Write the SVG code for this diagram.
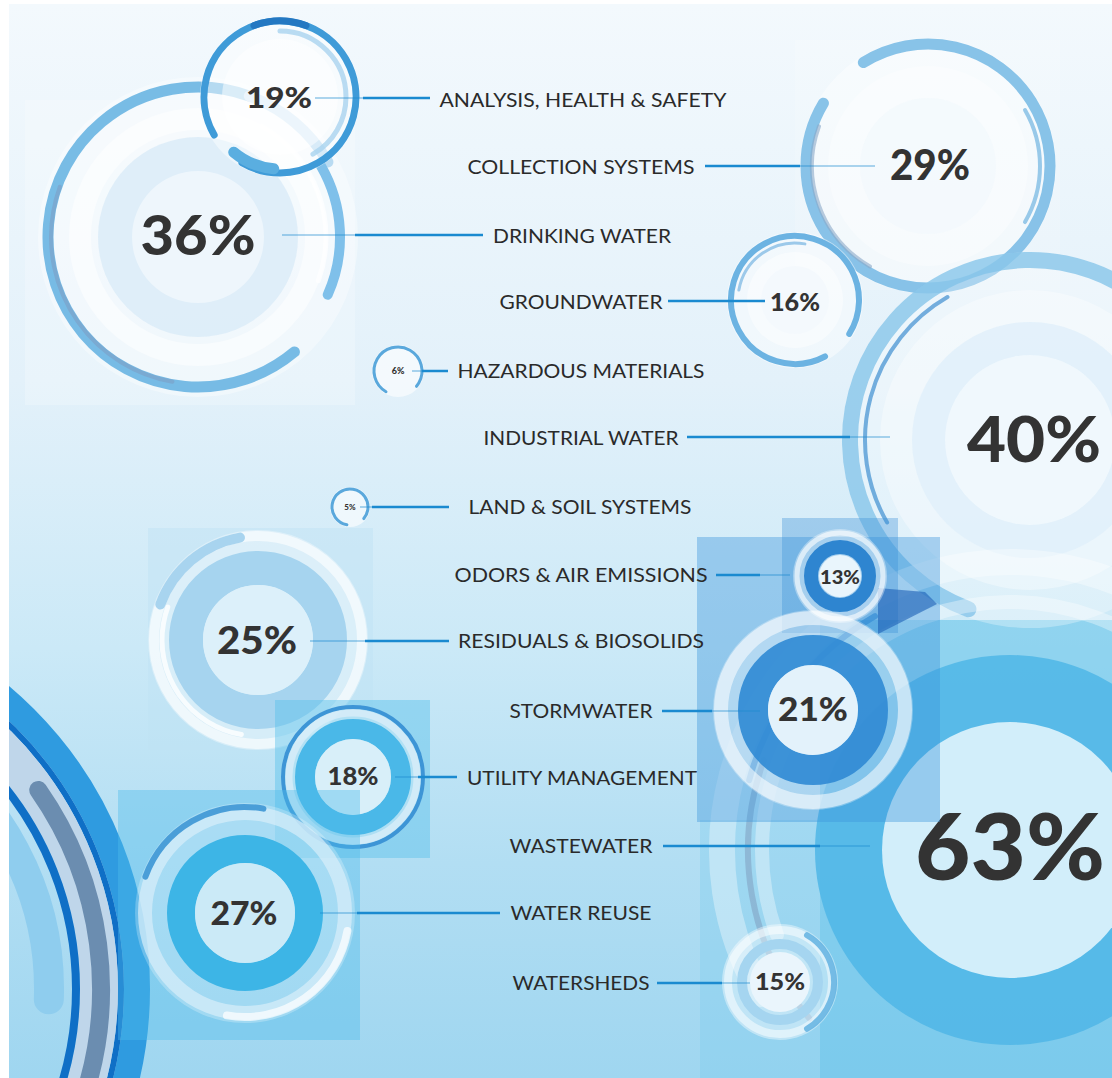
<svg xmlns="http://www.w3.org/2000/svg" width="1112" height="1078" viewBox="0 0 1112 1078">
<style>
.lbl{font-family:Lato,"Liberation Sans",sans-serif;font-size:19px;fill:#2a2a2a;text-anchor:middle}
.pct{font-family:Lato,"Liberation Sans",sans-serif;font-weight:900;fill:#333;text-anchor:middle}
.arc{fill:none;stroke-linecap:round}
.ring{fill:none}
.con{stroke:#1a8ad0;stroke-width:2.5}
.fnt{stroke:#1a8ad0;stroke-width:2;opacity:.35}
</style>
<defs>
<linearGradient id="bg" x1="0" y1="0" x2="0" y2="1">
<stop offset="0" stop-color="#f3f9fd"/>
<stop offset=".35" stop-color="#e3f1fa"/>
<stop offset=".6" stop-color="#cbe9f7"/>
<stop offset=".8" stop-color="#b2def3"/>
<stop offset="1" stop-color="#9fd6f0"/>
</linearGradient>
<clipPath id="frame"><rect x="9" y="4" width="1103" height="1074"/></clipPath>
</defs>
<rect width="1112" height="1078" fill="#fff"/>
<rect x="9" y="4" width="1103" height="1074" fill="url(#bg)"/>
<g clip-path="url(#frame)">
<g id="backdrop">
<rect x="25" y="100" width="330" height="305" fill="#fff" opacity=".22"/>
<rect x="795" y="40" width="265" height="250" fill="#fff" opacity=".15"/>
<rect x="148" y="528" width="225" height="222" fill="#bfe2f5" opacity=".45"/>
<rect x="820" y="620" width="292" height="458" fill="#5fc1ea" opacity=".55"/>
<rect x="700" y="820" width="120" height="258" fill="#7ccbee" opacity=".35"/>
</g>
<g id="bigarc">
<circle cx="-246" cy="989" r="295" class="arc" stroke="#8fcdee" stroke-width="30" pathLength="360" stroke-dasharray="60 999" transform="rotate(302 -246 989)"/>
<circle cx="-246" cy="989" r="383" class="ring" stroke="#2f9be0" stroke-width="26"/>
<circle cx="-246" cy="989" r="367" class="ring" stroke="#0f6fc6" stroke-width="6"/>
<circle cx="-246" cy="989" r="345" class="ring" stroke="#bfd6ea" stroke-width="38"/>
<circle cx="-246" cy="989" r="347" class="arc" stroke="#6b8db0" stroke-width="18" pathLength="360" stroke-dasharray="55 999" transform="rotate(325 -246 989)"/>
<circle cx="-246" cy="989" r="322" class="ring" stroke="#0f6fc6" stroke-width="8"/>
</g>
<g id="n36">
<circle cx="198" cy="237" r="160" fill="#fff" opacity=".35"/>
<circle cx="198" cy="237" r="118" class="ring" stroke="#fff" stroke-width="22" opacity=".5"/>
<circle cx="198" cy="237" r="100" fill="#d9ebf7" opacity=".8"/>
<circle cx="198" cy="237" r="66" fill="#eef6fc"/>
<circle cx="198" cy="237" r="150" class="arc" stroke="#62b0e0" stroke-width="11" opacity=".85" pathLength="360" stroke-dasharray="240 999" transform="rotate(50 198 237)"/>
<circle cx="198" cy="237" r="147" class="arc" stroke="#7d9fc4" stroke-width="4" opacity=".6" pathLength="360" stroke-dasharray="100 999" transform="rotate(100 198 237)"/>
<circle cx="198" cy="237" r="150" class="arc" stroke="#b9dbf2" stroke-width="11" pathLength="360" stroke-dasharray="40 999" transform="rotate(290 198 237)"/>
<circle cx="198" cy="237" r="142" class="arc" stroke="#7fc0ea" stroke-width="10" pathLength="360" stroke-dasharray="54 999" transform="rotate(330 198 237)"/>
<circle cx="198" cy="237" r="128" class="arc" stroke="#fff" stroke-width="5" opacity=".7" pathLength="360" stroke-dasharray="80 999" transform="rotate(300 198 237)"/>
<text class="pct" x="198" y="255" font-size="55" textLength="115" lengthAdjust="spacingAndGlyphs">36%</text>
</g>
<g id="n19">
<circle cx="280" cy="97" r="80" fill="#fff" opacity=".45"/>
<circle cx="280" cy="97" r="58" fill="#fff" opacity=".5"/>
<circle cx="280" cy="97" r="76" class="arc" stroke="#3f9bd8" stroke-width="7" pathLength="360" stroke-dasharray="330 999" transform="rotate(150 280 97)"/>
<circle cx="280" cy="97" r="76" class="arc" stroke="#2478c2" stroke-width="7" pathLength="360" stroke-dasharray="40 999" transform="rotate(250 280 97)"/>
<circle cx="280" cy="97" r="66" class="arc" stroke="#a9d3ef" stroke-width="5" opacity=".8" pathLength="360" stroke-dasharray="150 999" transform="rotate(270 280 97)"/>
<circle cx="280" cy="97" r="72" class="arc" stroke="#5aaee0" stroke-width="11" pathLength="360" stroke-dasharray="35 999" transform="rotate(95 280 97)"/>
<text class="pct" x="279" y="108" font-size="29" textLength="66" lengthAdjust="spacingAndGlyphs">19%</text>
</g>
<g id="n29">
<circle cx="928" cy="166" r="128" fill="#fff" opacity=".4"/>
<circle cx="928" cy="166" r="100" fill="#fff" opacity=".35"/>
<circle cx="928" cy="166" r="68" fill="#f3f9fd" opacity=".8"/>
<circle cx="928" cy="166" r="122" class="arc" stroke="#74b9e4" stroke-width="11" opacity=".85" pathLength="360" stroke-dasharray="333 999" transform="rotate(238 928 166)"/>
<circle cx="928" cy="166" r="116" class="arc" stroke="#8aa9c8" stroke-width="4" opacity=".6" pathLength="360" stroke-dasharray="80 999" transform="rotate(120 928 166)"/>
<circle cx="928" cy="166" r="112" class="arc" stroke="#5aa8dc" stroke-width="4" opacity=".6" pathLength="360" stroke-dasharray="60 999" transform="rotate(330 928 166)"/>
<text class="pct" x="930" y="180" font-size="42" textLength="80" lengthAdjust="spacingAndGlyphs">29%</text>
</g>
<g id="n16">
<circle cx="795" cy="300" r="68" fill="#fff" opacity=".45"/>
<circle cx="795" cy="300" r="48" fill="#fff" opacity=".45"/>
<circle cx="795" cy="300" r="34" fill="#f4f9fd"/>
<circle cx="795" cy="300" r="64" class="arc" stroke="#6cb3e2" stroke-width="6" pathLength="360" stroke-dasharray="330 999" transform="rotate(62 795 300)"/>
<circle cx="795" cy="300" r="57" class="arc" stroke="#9cc9ea" stroke-width="3" pathLength="360" stroke-dasharray="90 999" transform="rotate(190 795 300)"/>
<text class="pct" x="795" y="311" font-size="25" textLength="50" lengthAdjust="spacingAndGlyphs">16%</text>
</g>
<g id="n40">
<circle cx="1030" cy="440" r="188" fill="#fff" opacity=".3"/>
<circle cx="1030" cy="440" r="180" class="arc" stroke="#7fc1e8" stroke-width="16" opacity=".75" pathLength="360" stroke-dasharray="240 999" transform="rotate(110 1030 440)"/>
<circle cx="1030" cy="440" r="165" class="arc" stroke="#3f8fd0" stroke-width="4" opacity=".7" pathLength="360" stroke-dasharray="90 999" transform="rotate(150 1030 440)"/>
<circle cx="1030" cy="440" r="150" fill="#fff" opacity=".35"/>
<circle cx="1030" cy="440" r="118" fill="#e1f0fa" opacity=".85"/>
<circle cx="1030" cy="440" r="85" fill="#f1f8fd" opacity=".9"/>
<text class="pct" x="1034" y="462" font-size="62" textLength="134" lengthAdjust="spacingAndGlyphs">40%</text>
</g>
<g id="n63">
<circle cx="1010" cy="850" r="288" class="arc" stroke="#fff" stroke-width="26" opacity=".35" pathLength="360" stroke-dasharray="190 999" transform="rotate(150 1010 850)"/>
<circle cx="1010" cy="850" r="270" class="arc" stroke="#2f86d2" stroke-width="6" opacity=".7" pathLength="360" stroke-dasharray="45 999" transform="rotate(195 1010 850)"/>
<circle cx="1010" cy="850" r="262" class="arc" stroke="#7f9fbf" stroke-width="6" opacity=".55" pathLength="360" stroke-dasharray="60 999" transform="rotate(140 1010 850)"/>
<circle cx="1010" cy="850" r="248" class="arc" stroke="#fff" stroke-width="14" opacity=".35" pathLength="360" stroke-dasharray="170 999" transform="rotate(160 1010 850)"/>
<circle cx="1010" cy="850" r="195" fill="#4fb6e6" opacity=".85"/>
<circle cx="1010" cy="850" r="128" fill="#d2eefa"/>
<text class="pct" x="1010" y="880" font-size="92" textLength="190" lengthAdjust="spacingAndGlyphs">63%</text>
</g>
<g id="n13">
<rect x="697" y="537" width="243" height="285" fill="#3d97dc" opacity=".4"/>
<rect x="782" y="518" width="116" height="115" fill="#3a8fd8" opacity=".35"/>
<polygon points="878,588 925,592 937,604 878,634" fill="#1d5fb5" opacity=".6"/>
<circle cx="840" cy="576" r="47" fill="#fff" opacity=".35"/>
<circle cx="840" cy="576" r="43" class="ring" stroke="#fff" stroke-width="5" opacity=".6"/>
<circle cx="840" cy="576" r="29" class="ring" stroke="#2e85d0" stroke-width="14"/>
<circle cx="840" cy="576" r="21" fill="#e9f5fc"/>
<text class="pct" x="840" y="584" font-size="18" textLength="40" lengthAdjust="spacingAndGlyphs">13%</text>
</g>
<g id="n21">
<circle cx="813" cy="710" r="100" fill="#fff" opacity=".3"/>
<circle cx="813" cy="710" r="92" class="ring" stroke="#fff" stroke-width="14" opacity=".55"/>
<circle cx="813" cy="710" r="60" class="ring" stroke="#2f8ad4" stroke-width="30" opacity=".9"/>
<circle cx="813" cy="710" r="45" fill="#e3f2fb"/>
<text class="pct" x="813" y="721" font-size="32" textLength="70" lengthAdjust="spacingAndGlyphs">21%</text>
</g>
<g id="n15">
<circle cx="780" cy="982" r="58" fill="#fff" opacity=".4"/>
<circle cx="780" cy="982" r="52" class="ring" stroke="#fff" stroke-width="8" opacity=".5"/>
<circle cx="780" cy="982" r="54" class="arc" stroke="#5aaee0" stroke-width="6" opacity=".8" pathLength="360" stroke-dasharray="120 999" transform="rotate(300 780 982)"/>
<circle cx="780" cy="982" r="38" class="ring" stroke="#a5d5f0" stroke-width="10"/>
<circle cx="780" cy="982" r="30" fill="#eaf5fc"/>
<text class="pct" x="780" y="990" font-size="23" textLength="50" lengthAdjust="spacingAndGlyphs">15%</text>
</g>
<g id="n25">
<circle cx="258" cy="640" r="110" fill="#fff" opacity=".35"/>
<circle cx="258" cy="640" r="104" class="ring" stroke="#fff" stroke-width="10" opacity=".6"/>
<circle cx="258" cy="640" r="104" class="arc" stroke="#a8d4ef" stroke-width="10" pathLength="360" stroke-dasharray="60 999" transform="rotate(200 258 640)"/>
<circle cx="258" cy="640" r="96" class="arc" stroke="#fff" stroke-width="5" opacity=".8" pathLength="360" stroke-dasharray="100 999" transform="rotate(100 258 640)"/>
<circle cx="258" cy="640" r="72" class="ring" stroke="#a6d4ef" stroke-width="34"/>
<circle cx="258" cy="640" r="55" fill="#dcf0fa"/>
<text class="pct" x="257" y="654" font-size="38" textLength="80" lengthAdjust="spacingAndGlyphs">25%</text>
</g>
<g id="n18">
<rect x="275" y="700" width="155" height="158" fill="#58c0ea" opacity=".45"/>
<circle cx="353" cy="777" r="72" fill="#fff" opacity=".3"/>
<circle cx="353" cy="777" r="70" class="ring" stroke="#3d95d6" stroke-width="4"/>
<circle cx="353" cy="777" r="64" class="ring" stroke="#d9eef9" stroke-width="7" opacity=".8"/>
<circle cx="353" cy="777" r="48" class="ring" stroke="#4ab8e8" stroke-width="20"/>
<circle cx="353" cy="777" r="38" fill="#d8eff9"/>
<text class="pct" x="353" y="785" font-size="24" textLength="51" lengthAdjust="spacingAndGlyphs">18%</text>
</g>
<g id="n27">
<rect x="118" y="790" width="242" height="250" fill="#4dbbea" opacity=".4"/>
<circle cx="245" cy="913" r="110" fill="#fff" opacity=".25"/>
<circle cx="245" cy="913" r="100" class="ring" stroke="#d9eef9" stroke-width="14" opacity=".7"/>
<circle cx="245" cy="913" r="106" class="arc" stroke="#4a9ed8" stroke-width="6" pathLength="360" stroke-dasharray="80 999" transform="rotate(200 245 913)"/>
<circle cx="245" cy="913" r="104" class="arc" stroke="#fff" stroke-width="8" opacity=".7" pathLength="360" stroke-dasharray="90 999" transform="rotate(10 245 913)"/>
<circle cx="245" cy="913" r="64" class="ring" stroke="#3db5e6" stroke-width="28"/>
<circle cx="245" cy="913" r="50" fill="#cbeaf7"/>
<text class="pct" x="244" y="925" font-size="32" textLength="67" lengthAdjust="spacingAndGlyphs">27%</text>
</g>
<g id="n6">
<circle cx="398" cy="371" r="26" fill="#fff" opacity=".6"/>
<circle cx="398" cy="371" r="24" class="arc" stroke="#5aa8dc" stroke-width="3" pathLength="360" stroke-dasharray="280 999" transform="rotate(120 398 371)"/>
<text class="pct" x="398" y="374" font-size="9">6%</text>
</g>
<g id="n5">
<circle cx="350" cy="507" r="20" fill="#fff" opacity=".6"/>
<circle cx="350" cy="507" r="18" class="arc" stroke="#5aa8dc" stroke-width="3" pathLength="360" stroke-dasharray="300 999" transform="rotate(100 350 507)"/>
<text class="pct" x="350" y="510" font-size="8">5%</text>
</g>
</g>
<g id="connectors">
<line class="fnt" x1="315" y1="98" x2="363" y2="98"/><line class="con" x1="363" y1="98" x2="430" y2="98"/>
<line class="con" x1="705" y1="166" x2="800" y2="166"/><line class="fnt" x1="800" y1="166" x2="875" y2="166"/>
<line class="fnt" x1="282" y1="235" x2="355" y2="235"/><line class="con" x1="355" y1="235" x2="483" y2="235"/>
<line class="con" x1="668" y1="301" x2="765" y2="301"/>
<line class="fnt" x1="412" y1="371" x2="422" y2="371"/><line class="con" x1="422" y1="371" x2="448" y2="371"/>
<line class="con" x1="687" y1="437" x2="850" y2="437"/><line class="fnt" x1="850" y1="437" x2="890" y2="437"/>
<line class="fnt" x1="360" y1="507" x2="372" y2="507"/><line class="con" x1="372" y1="507" x2="449" y2="507"/>
<line class="con" x1="716" y1="575" x2="760" y2="575"/><line class="fnt" x1="760" y1="575" x2="790" y2="575"/>
<line class="fnt" x1="310" y1="641" x2="365" y2="641"/><line class="con" x1="365" y1="641" x2="449" y2="641"/>
<line class="con" x1="662" y1="711" x2="712" y2="711"/><line class="fnt" x1="712" y1="711" x2="760" y2="711"/>
<line class="fnt" x1="395" y1="777" x2="418" y2="777"/><line class="con" x1="418" y1="777" x2="457" y2="777"/>
<line class="con" x1="663" y1="846" x2="820" y2="846"/><line class="fnt" x1="820" y1="846" x2="870" y2="846"/>
<line class="fnt" x1="320" y1="913" x2="357" y2="913"/><line class="con" x1="357" y1="913" x2="500" y2="913"/>
<line class="con" x1="657" y1="983" x2="722" y2="983"/><line class="fnt" x1="722" y1="983" x2="750" y2="983"/>
</g>
<g id="labels">
<text class="lbl" x="583" y="107" textLength="287" lengthAdjust="spacingAndGlyphs">ANALYSIS, HEALTH &amp; SAFETY</text>
<text class="lbl" x="581" y="174" textLength="227" lengthAdjust="spacingAndGlyphs">COLLECTION SYSTEMS</text>
<text class="lbl" x="582" y="243" textLength="178" lengthAdjust="spacingAndGlyphs">DRINKING WATER</text>
<text class="lbl" x="581" y="309" textLength="163" lengthAdjust="spacingAndGlyphs">GROUNDWATER</text>
<text class="lbl" x="581" y="378" textLength="247" lengthAdjust="spacingAndGlyphs">HAZARDOUS MATERIALS</text>
<text class="lbl" x="581" y="445" textLength="195" lengthAdjust="spacingAndGlyphs">INDUSTRIAL WATER</text>
<text class="lbl" x="580" y="514" textLength="223" lengthAdjust="spacingAndGlyphs">LAND &amp; SOIL SYSTEMS</text>
<text class="lbl" x="581" y="582" textLength="253" lengthAdjust="spacingAndGlyphs">ODORS &amp; AIR EMISSIONS</text>
<text class="lbl" x="581" y="648" textLength="246" lengthAdjust="spacingAndGlyphs">RESIDUALS &amp; BIOSOLIDS</text>
<text class="lbl" x="581" y="718" textLength="143" lengthAdjust="spacingAndGlyphs">STORMWATER</text>
<text class="lbl" x="582" y="785" textLength="230" lengthAdjust="spacingAndGlyphs">UTILITY MANAGEMENT</text>
<text class="lbl" x="581" y="853" textLength="143" lengthAdjust="spacingAndGlyphs">WASTEWATER</text>
<text class="lbl" x="581" y="920" textLength="141" lengthAdjust="spacingAndGlyphs">WATER REUSE</text>
<text class="lbl" x="581" y="990" textLength="137" lengthAdjust="spacingAndGlyphs">WATERSHEDS</text>
</g>
</svg>
